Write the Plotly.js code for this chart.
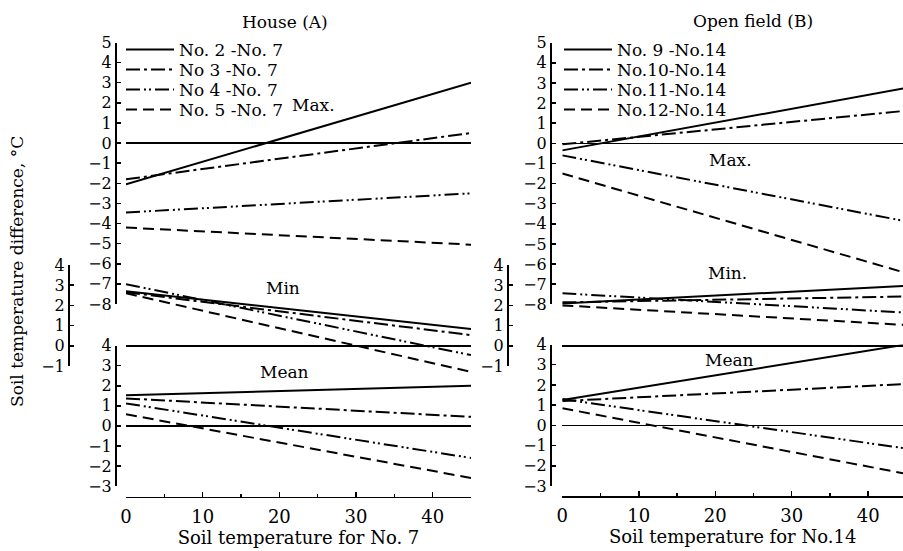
<!DOCTYPE html>
<html>
<head>
<meta charset="utf-8">
<script src="https://cdn.plot.ly/plotly-3.0.1.min.js"></script>
<style>
html,body{margin:0;padding:0;background:#fff;}
#chart{width:903px;height:551px;}
</style>
</head>
<body>
<div id="chart"></div>
<script>
// ---- Data (regression lines, value at soil temperature 0 and 45) ----
const xTemp = [0, 45];

const houseNames = ["No. 2 -No. 7", "No 3 -No. 7", "No 4 -No. 7", "No. 5 -No. 7"];
const houseMaxStart = [-2.05, -1.8, -3.45, -4.2];
const houseMaxEnd   = [3.0, 0.5, -2.5, -5.05];
const houseMinStart = [2.7, 2.65, 3.05, 2.6];
const houseMinEnd   = [0.83, 0.53, -0.46, -1.29];
const houseMeanStart = [1.53, 1.37, 1.12, 0.58];
const houseMeanEnd   = [2.0, 0.45, -1.6, -2.6];

const fieldNames = ["No. 9 -No.14", "No.10-No.14", "No.11-No.14", "No.12-No.14"];
const fieldMaxStart = [-0.35, -0.05, -0.6, -1.5];
const fieldMaxEnd   = [2.75, 1.62, -3.88, -6.45];
const fieldMinStart = [2.1, 2.15, 2.6, 2.0];
const fieldMinEnd   = [2.97, 2.44, 1.64, 1.03];
const fieldMeanStart = [1.25, 1.2, 1.3, 0.85];
const fieldMeanEnd   = [4.0, 2.05, -1.15, -2.4];

const maxTicks = [5,4,3,2,1,0,-1,-2,-3,-4,-5,-6,-7,-8];
const minTicks = [4,3,2,1,0,-1];
const meanTicks = [4,3,2,1,0,-1,-2,-3];
const xTicks = [0,10,20,30,40];

// ---- Styles ----
const dashes = ["solid", "14px,4px,3px,4px", "14px,4px,2px,3px,2px,4px", "11px,6px"];
const FONT = "DejaVu Serif, Liberation Serif, serif";
const W = 903, H = 551;
const px = v => v / W;
const py = v => (H - v) / H;

const houseLegends = ["legend", "legend2", "legend3", "legend4"];
const fieldLegends = ["legend5", "legend6", "legend7", "legend8"];

const traces = [];
function addSet(starts, ends, names, xa, ya, legendIds) {
  for (let i = 0; i < starts.length; i++) {
    traces.push({
      type: "scatter", mode: "lines",
      x: xTemp, y: [starts[i], ends[i]],
      xaxis: xa, yaxis: ya,
      name: names[i],
      legend: legendIds ? legendIds[i] : "legend",
      showlegend: !!legendIds,
      line: {color: "#000", width: 2, dash: dashes[i]},
      hoverinfo: "skip"
    });
  }
}
addSet(houseMaxStart, houseMaxEnd, houseNames, "x", "y", houseLegends);
addSet(houseMinStart, houseMinEnd, houseNames, "x", "y7", null);
addSet(houseMeanStart, houseMeanEnd, houseNames, "x", "y3", null);
addSet(fieldMaxStart, fieldMaxEnd, fieldNames, "x2", "y4", fieldLegends);
addSet(fieldMinStart, fieldMinEnd, fieldNames, "x2", "y5", null);
addSet(fieldMeanStart, fieldMeanEnd, fieldNames, "x2", "y6", null);
// empty placeholder so the visible Min axis of panel A gets its subplot (axis + zero line)
traces.push({type: "scatter", mode: "lines", x: [], y: [], xaxis: "x", yaxis: "y2", showlegend: false, hoverinfo: "skip"});

function yax(range, ticks, dom, pos, size) {
  return {
    range: range, domain: dom, anchor: "free", position: pos, side: "left",
    tickmode: "array", tickvals: ticks, ticktext: ticks.map(t => t < 0 ? "\u2212" + Math.abs(t) : String(t)),
    showline: true, linecolor: "#000", linewidth: 1.5,
    ticks: "inside", ticklen: 4, tickwidth: 1.5, tickcolor: "#000",
    showgrid: false, zeroline: true, zerolinecolor: "#000", zerolinewidth: 1.5,
    tickfont: {family: FONT, size: size || 16, color: "#000"},
    fixedrange: true
  };
}
function xax(range, dom, pos, title) {
  return {
    range: range, domain: dom, anchor: "free", position: pos,
    tickmode: "array", tickvals: xTicks,
    showline: true, linecolor: "#000", linewidth: 1.5,
    ticks: "inside", ticklen: 5, tickwidth: 1.5, tickcolor: "#000",
    minor: {dtick: 5, tick0: 0, ticks: "inside", ticklen: 3, tickwidth: 1.2, tickcolor: "#000", showgrid: false},
    showgrid: false, zeroline: false,
    tickfont: {family: FONT, size: 18, color: "#000"},
    ticklabelstandoff: 3,
    title: {text: title, font: {family: FONT, size: 18, color: "#000"}, standoff: 2},
    fixedrange: true
  };
}
function leg(xPix, yPix) {
  return {x: px(xPix), y: py(yPix), xanchor: "left", yanchor: "middle", bgcolor: "rgba(0,0,0,0)",
          borderwidth: 0, tracegroupgap: 0, itemwidth: 48,
          font: {family: FONT, size: 17, color: "#000"}};
}
function ann(text, xPix, yPix, extra) {
  return Object.assign({text: text, x: px(xPix), y: py(yPix), xref: "paper", yref: "paper",
    xanchor: "center", yanchor: "middle", showarrow: false, font: {family: FONT, size: 17, color: "#000"}}, extra || {});
}

// hidden axis for panel A Min traces: same scale as yaxis2, but room below -1 so the lines are not cut
const minScale = (366 - 265) / 5;
const minZero = 366 - minScale;

const layout = {
  width: W, height: H,
  margin: {l: 0, r: 0, t: 0, b: 0},
  paper_bgcolor: "#fff", plot_bgcolor: "rgba(0,0,0,0)",
  font: {family: FONT, color: "#000"},
  xaxis: xax([0, 45], [px(126), px(471)], py(496.7), "Soil temperature for No. 7"),
  xaxis2: xax([0, 44.55], [px(562.3), 1], py(496.2), "Soil temperature for No.14"),
  yaxis: yax([-8, 5], maxTicks, [py(304), py(42.5)], px(115)),
  yaxis2: yax([-1, 4], minTicks, [py(366), py(265)], px(68)),
  yaxis3: yax([-3, 4], meanTicks, [py(486), py(345.7)], px(115)),
  yaxis4: yax([-8, 5], maxTicks, [py(304.3), py(42.7)], px(550)),
  yaxis5: yax([-1, 4], minTicks, [py(366), py(265)], px(507)),
  yaxis6: yax([-3, 4], meanTicks, [py(486), py(344.5)], px(550)),
  yaxis7: {range: [-1.6, 4], domain: [py(minZero + 1.6 * minScale), py(265)], anchor: "free", position: px(68),
           visible: false, showgrid: false, zeroline: false, fixedrange: true},
  legend: leg(121, 50), legend2: leg(121, 70), legend3: leg(121, 90), legend4: leg(121, 110),
  legend5: leg(559, 50), legend6: leg(559, 70), legend7: leg(559, 90), legend8: leg(559, 110),
  showlegend: true,
  annotations: [
    ann("House (A)", 285, 22),
    ann("Open field (B)", 753, 21),
    ann("Max.", 313, 105),
    ann("Min", 283, 288),
    ann("Mean", 284, 372),
    ann("Max.", 730, 160),
    ann("Min.", 727, 273),
    ann("Mean", 729, 360),
    ann("Soil temperature difference, \u00B0C", 17, 272, {textangle: -90})
  ]
};

Plotly.newPlot("chart", traces, layout, {staticPlot: true, displayModeBar: false});
</script>
</body>
</html>
